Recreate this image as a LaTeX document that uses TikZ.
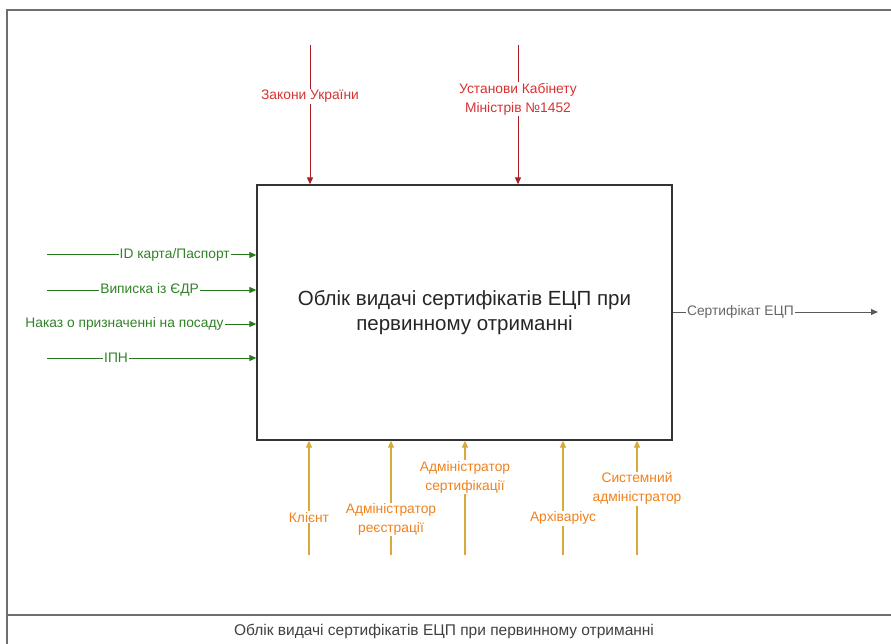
\documentclass[tikz,border=0pt]{standalone}
\usepackage{fontspec}
\setmainfont{Liberation Sans}
\usetikzlibrary{arrows.meta}
\definecolor{redline}{RGB}{170,30,40}
\definecolor{redtext}{RGB}{215,50,50}
\definecolor{greenline}{RGB}{40,120,30}
\definecolor{greentext}{RGB}{50,130,40}
\definecolor{orangeline}{RGB}{215,170,60}
\definecolor{orangetext}{RGB}{240,130,30}
\definecolor{grayline}{RGB}{90,90,90}
\definecolor{framecol}{RGB}{110,110,110}
\tikzset{
  tip/.style={-{Triangle[length=7pt,width=6pt]}},
  lbl/.style={fill=white,inner sep=1pt,font=\fontsize{13.8}{19}\selectfont,align=center},
  redarr/.style={tip,draw=redline,fill=redline,line width=1pt},
  greenarr/.style={tip,draw=greenline,fill=greenline,line width=1pt},
  orangearr/.style={tip,draw=orangeline,fill=orangeline,line width=1.1pt},
  grayarr/.style={tip,draw=grayline,fill=grayline,line width=1pt},
  mainbox/.style={draw=black!80,line width=1.3pt,minimum width=415pt,minimum height=255pt,align=center,inner sep=0pt,font=\fontsize{20.5}{25}\selectfont},
}
\begin{document}
\begin{tikzpicture}[x=1pt,y=-1pt]
\useasboundingbox (0,0) rectangle (891,644);
% frame
\draw[framecol,line width=1.4pt] (7,650) -- (7,10) -- (900,10);
\draw[framecol,line width=1.4pt] (7,615) -- (900,615);
\node[font=\fontsize{15.5}{18}\selectfont,text=black!75] (cap) at (444,631) {Облік видачі сертифікатів ЕЦП при первинному отриманні};
% main box
\node[mainbox,text=black!85] (box) at (464.5,312.5) {Облік видачі сертифікатів ЕЦП при\\первинному отриманні};
% controls
\coordinate (r1) at (310,45);
\coordinate (r2) at (518,45);
\draw[redarr] (r1) -- (r1 |- box.north) node[lbl,pos=0.37,text=redtext] {Закони України};
\draw[redarr] (r2) -- (r2 |- box.north) node[lbl,pos=0.39,text=redtext] {Установи Кабінету\\Міністрів №1452};
% inputs
\coordinate (g1) at (47,255);
\coordinate (g2) at (47,290);
\coordinate (g3) at (47,324);
\coordinate (g4) at (47,358);
\draw[greenarr] (g1) -- (g1 -| box.west) node[lbl,pos=0.61,text=greentext] {ID карта/Паспорт};
\draw[greenarr] (g2) -- (g2 -| box.west) node[lbl,pos=0.49,text=greentext] {Виписка із ЄДР};
\draw[greenarr] (g3) -- (g3 -| box.west) node[lbl,pos=0.37,text=greentext] {Наказ о призначенні на посаду};
\draw[greenarr] (g4) -- (g4 -| box.west) node[lbl,pos=0.33,text=greentext] {ІПН};
% output
\coordinate (o1) at (878,312);
\draw[grayarr] (o1 -| box.east) -- (o1) node[lbl,pos=0.33,text=black!60] {Сертифікат ЕЦП};
% mechanisms
\coordinate (m1) at (309,555);
\coordinate (m2) at (391,555);
\coordinate (m3) at (465,555);
\coordinate (m4) at (563,555);
\coordinate (m5) at (637,555);
\draw[orangearr] (m1) -- (m1 |- box.south) node[lbl,pos=0.33,text=orangetext] {Клієнт};
\draw[orangearr] (m2) -- (m2 |- box.south) node[lbl,pos=0.31,text=orangetext] {Адміністратор\\реєстрації};
\draw[orangearr] (m3) -- (m3 |- box.south) node[lbl,pos=0.68,text=orangetext] {Адміністратор\\сертифікації};
\draw[orangearr] (m4) -- (m4 |- box.south) node[lbl,pos=0.32,text=orangetext] {Архіваріус};
\draw[orangearr] (m5) -- (m5 |- box.south) node[lbl,pos=0.58,text=orangetext] {Системний\\адміністратор};
\end{tikzpicture}
\end{document}
